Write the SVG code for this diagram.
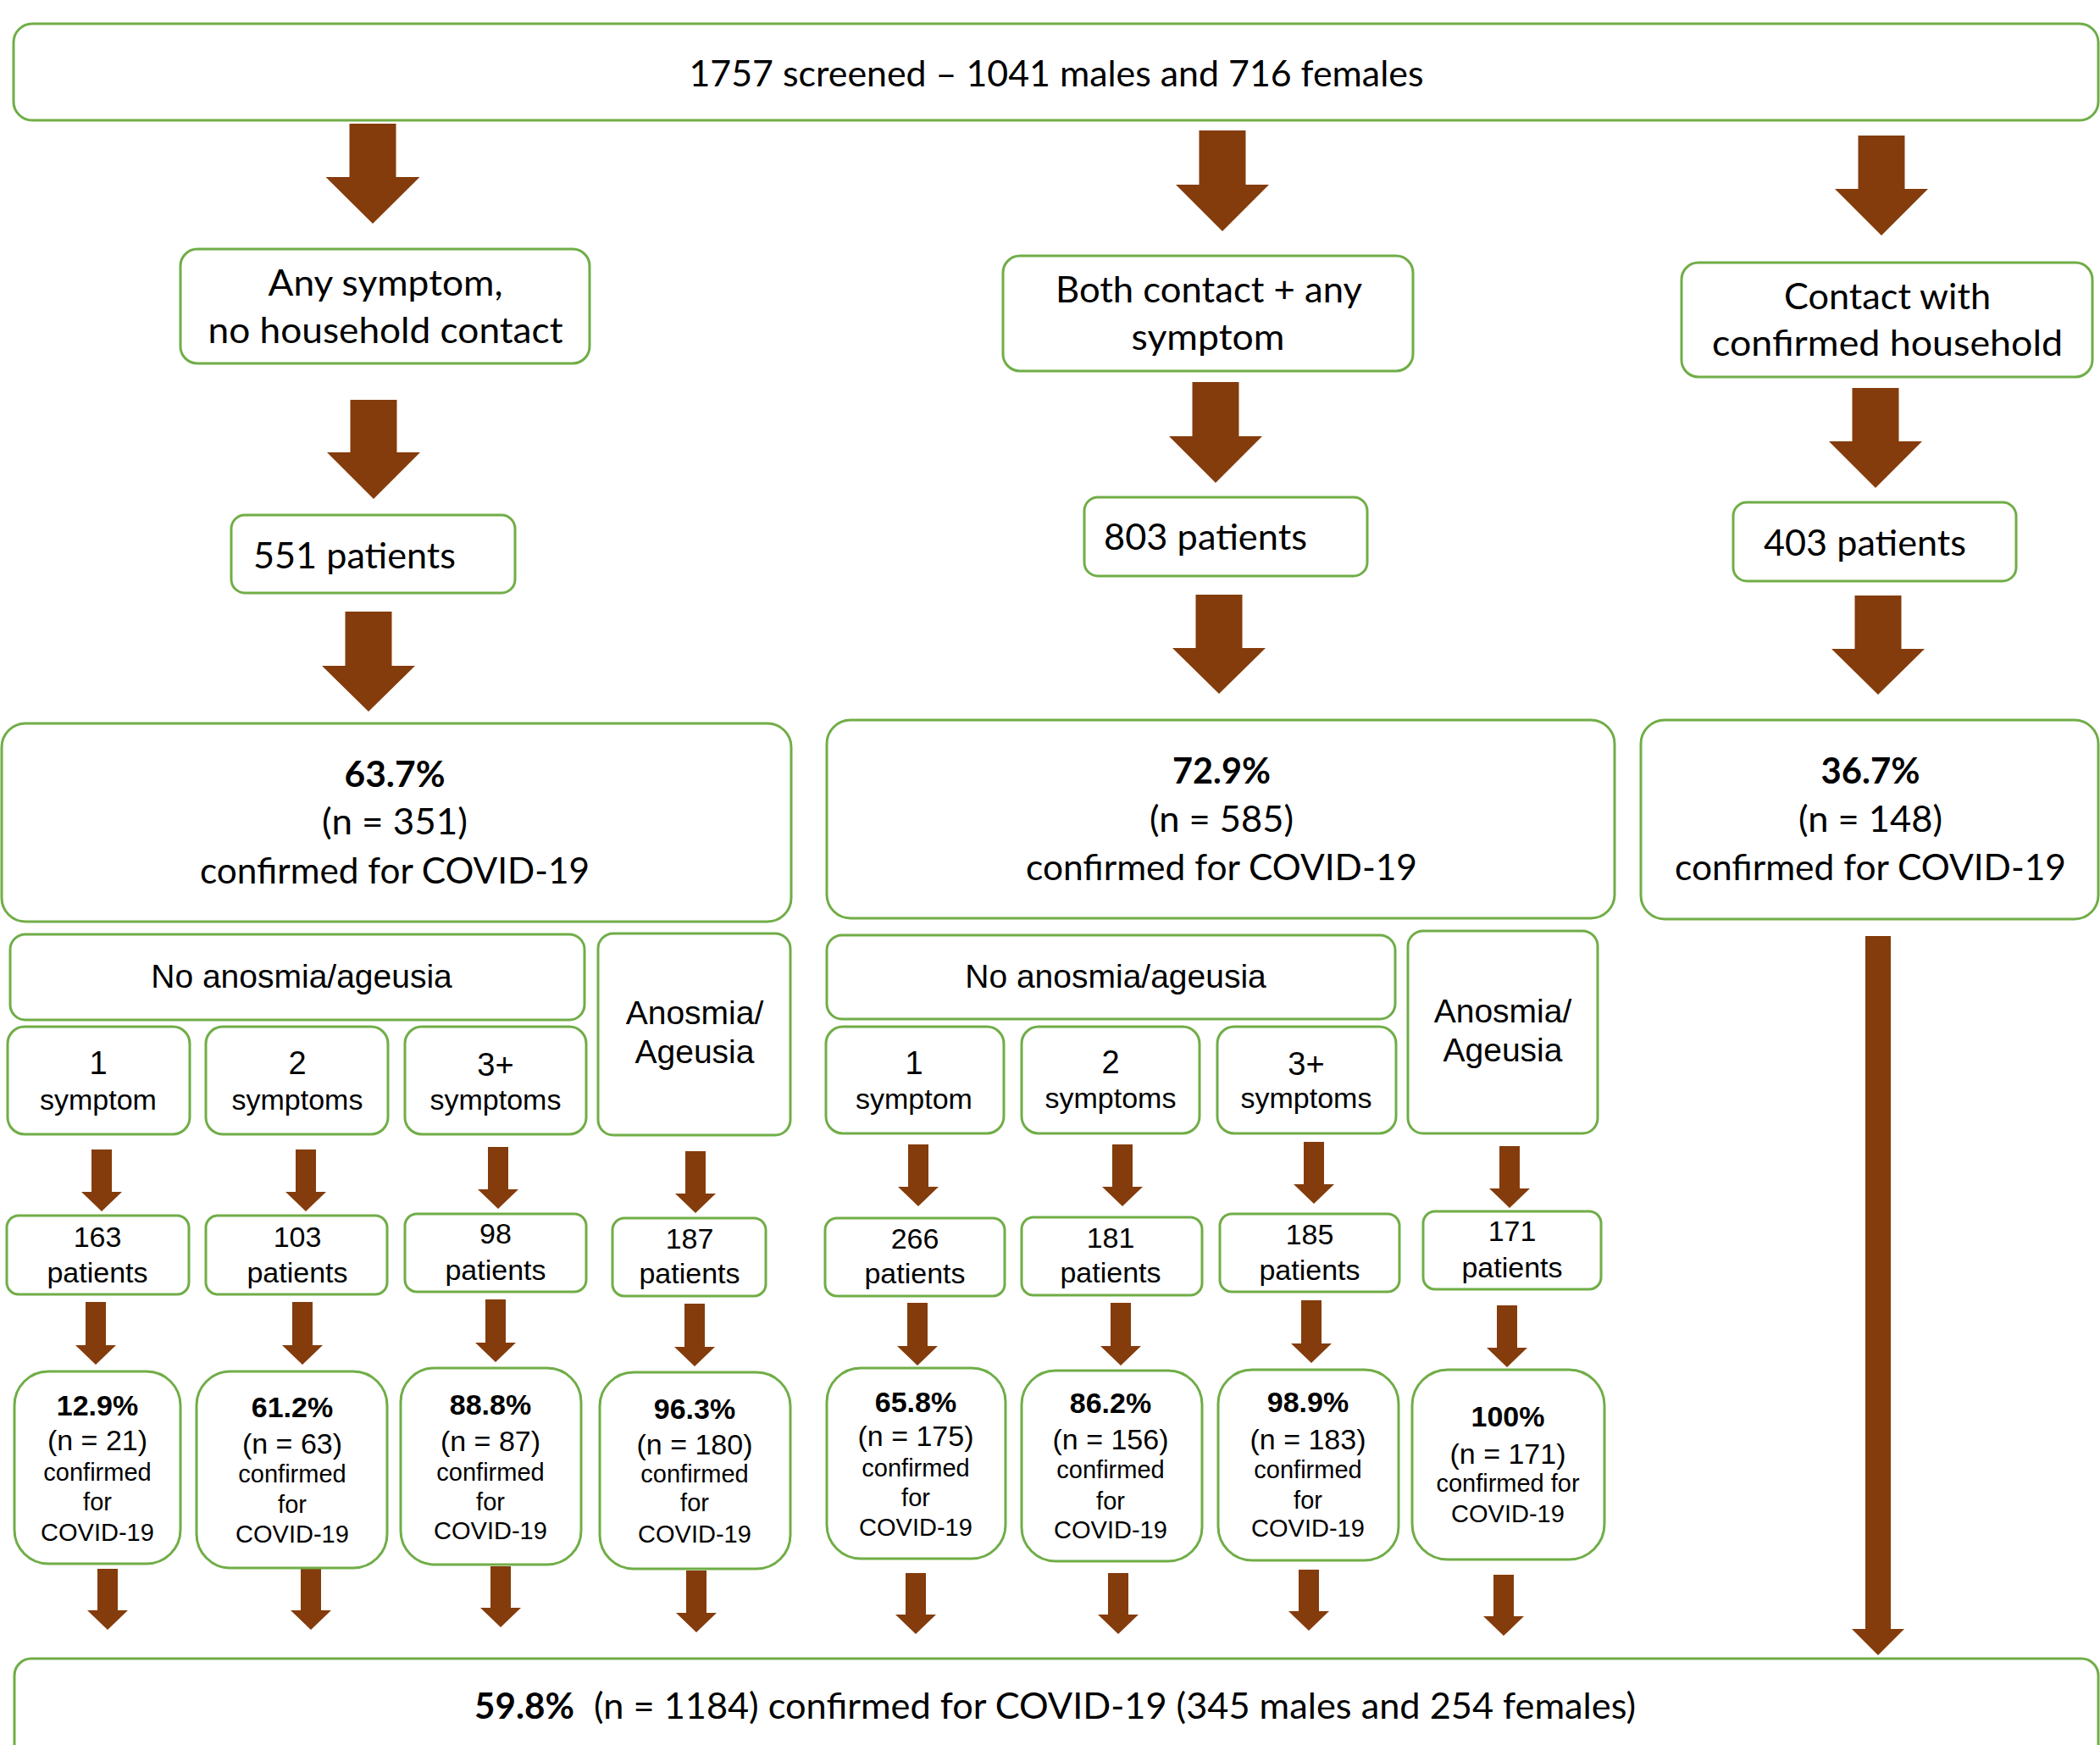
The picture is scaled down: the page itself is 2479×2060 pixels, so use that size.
<svg xmlns="http://www.w3.org/2000/svg" width="2479" height="2060" viewBox="0 0 2479 2060">
<style>
.box{fill:#fff;stroke:#70AD47;stroke-width:3}
.arr{fill:#843C0C}
.c{font-family:Lato,"Open Sans","Liberation Sans",sans-serif;font-size:42px;fill:#000}
.cb{font-family:Lato,"Open Sans","Liberation Sans",sans-serif;font-size:42px;font-weight:bold;fill:#000}
.a{font-family:"Liberation Sans",Arial,sans-serif;fill:#000;text-anchor:middle}
.mid{text-anchor:middle}
.s39{font-size:39px}
.s38{font-size:38px}
.s34{font-size:34px}
.s29{font-size:29px}
.b{font-weight:bold}
</style>
<rect width="2479" height="2060" fill="#fff"/>

<g id="connectors">
<!-- big arrows -->
<path class="arr" d="M412.5,146H467.5V209H495.5L440,264L384.5,209H412.5Z"/>
<path class="arr" d="M413.5,472H468.5V534H496L441,589L386,534H413.5Z"/>
<path class="arr" d="M1415.5,154H1470.5V218H1498L1443,273L1388,218H1415.5Z"/>
<path class="arr" d="M1407.5,451H1462.5V515H1490L1435,570L1380,515H1407.5Z"/>
<path class="arr" d="M2193.5,160H2248.5V223H2276L2221,278L2166,223H2193.5Z"/>
<path class="arr" d="M2186.5,458H2241.5V521H2269L2214,576L2159,521H2186.5Z"/>
<path class="arr" d="M407.5,722H462.5V786H490L435,840L380,786H407.5Z"/>
<path class="arr" d="M1411.5,702H1466.5V765H1494L1439,819L1384,765H1411.5Z"/>
<path class="arr" d="M2189.5,703H2244.5V766H2272L2217,820L2162,766H2189.5Z"/>
<!-- long arrow -->
<path class="arr" d="M2202,1105H2232V1923H2248L2217,1954L2186,1923H2202Z"/>
<!-- row A -->
<path class="arr" d="M108,1357H132V1407H144L120,1430L96,1407H108Z"/>
<path class="arr" d="M349,1357H373V1407H385L361,1430L337,1407H349Z"/>
<path class="arr" d="M576,1354H600V1404H612L588,1427L564,1404H576Z"/>
<path class="arr" d="M809,1359H833V1409H845L821,1432L797,1409H809Z"/>
<path class="arr" d="M1072,1351H1096V1401H1108L1084,1424L1060,1401H1072Z"/>
<path class="arr" d="M1313,1351H1337V1401H1349L1325,1424L1301,1401H1313Z"/>
<path class="arr" d="M1539,1348H1563V1398H1575L1551,1421L1527,1398H1539Z"/>
<path class="arr" d="M1770,1353H1794V1403H1806L1782,1426L1758,1403H1770Z"/>
<!-- row B -->
<path class="arr" d="M101,1537H125V1588H137L113,1611L89,1588H101Z"/>
<path class="arr" d="M345,1537H369V1588H381L357,1611L333,1588H345Z"/>
<path class="arr" d="M573,1534H597V1585H609L585,1608L561,1585H573Z"/>
<path class="arr" d="M808,1539H832V1590H844L820,1613L796,1590H808Z"/>
<path class="arr" d="M1071,1538H1095V1589H1107L1083,1612L1059,1589H1071Z"/>
<path class="arr" d="M1311,1538H1335V1589H1347L1323,1612L1299,1589H1311Z"/>
<path class="arr" d="M1536,1535H1560V1586H1572L1548,1609L1524,1586H1536Z"/>
<path class="arr" d="M1767,1541H1791V1591H1803L1779,1614L1755,1591H1767Z"/>
<!-- row C -->
<path class="arr" d="M115,1852H139V1901H151L127,1924L103,1901H115Z"/>
<path class="arr" d="M355,1852H379V1901H391L367,1924L343,1901H355Z"/>
<path class="arr" d="M579,1849H603V1898H615L591,1921L567,1898H579Z"/>
<path class="arr" d="M810,1854H834V1904H846L822,1927L798,1904H810Z"/>
<path class="arr" d="M1069,1857H1093V1906H1105L1081,1929L1057,1906H1069Z"/>
<path class="arr" d="M1308,1857H1332V1906H1344L1320,1929L1296,1906H1308Z"/>
<path class="arr" d="M1533,1853H1557V1902H1569L1545,1925L1521,1902H1533Z"/>
<path class="arr" d="M1763,1859H1787V1908H1799L1775,1931L1751,1908H1763Z"/>
</g>

<g id="n-screened">
<rect class="box" x="16" y="28" width="2461" height="114" rx="22"/>
<text class="c mid" x="1247" y="102" textLength="867" lengthAdjust="spacingAndGlyphs">1757 screened – 1041 males and 716 females</text>
</g>
<g id="n-anysymptom">
<rect class="box" x="213" y="294" width="483" height="135" rx="20"/>
<text class="c mid" x="455" y="349" textLength="277" lengthAdjust="spacingAndGlyphs">Any symptom,</text>
<text class="c mid" x="455" y="405" textLength="419" lengthAdjust="spacingAndGlyphs">no household contact</text>
</g>
<g id="n-551">
<rect class="box" x="273" y="608" width="335" height="92" rx="16"/>
<text class="c" x="299" y="671" textLength="239" lengthAdjust="spacingAndGlyphs">551 patients</text>
</g>
<g id="n-both">
<rect class="box" x="1184" y="302" width="484" height="136" rx="20"/>
<text class="c mid" x="1427" y="357" textLength="362" lengthAdjust="spacingAndGlyphs">Both contact + any</text>
<text class="c mid" x="1426" y="413" textLength="181" lengthAdjust="spacingAndGlyphs">symptom</text>
</g>
<g id="n-803">
<rect class="box" x="1280" y="587" width="334" height="93" rx="16"/>
<text class="c" x="1303" y="649" textLength="240" lengthAdjust="spacingAndGlyphs">803 patients</text>
</g>
<g id="n-contact">
<rect class="box" x="1985" y="310" width="485" height="135" rx="20"/>
<text class="c mid" x="2228" y="365" textLength="244" lengthAdjust="spacingAndGlyphs">Contact with</text>
<text class="c mid" x="2228" y="420" textLength="414" lengthAdjust="spacingAndGlyphs">confirmed household</text>
</g>
<g id="n-403">
<rect class="box" x="2046" y="593" width="334" height="93" rx="16"/>
<text class="c" x="2082" y="656" textLength="239" lengthAdjust="spacingAndGlyphs">403 patients</text>
</g>

<g id="n-conf1">
<rect class="box" x="2" y="854" width="932" height="234" rx="28"/>
<text class="cb mid" x="466" y="929" textLength="119" lengthAdjust="spacingAndGlyphs">63.7%</text>
<text class="c mid" x="466" y="985" textLength="172" lengthAdjust="spacingAndGlyphs">(n = 351)</text>
<text class="c mid" x="466" y="1043" textLength="460" lengthAdjust="spacingAndGlyphs">confirmed for COVID-19</text>
</g>
<g id="n-conf2">
<rect class="box" x="976" y="850" width="930" height="234" rx="28"/>
<text class="cb mid" x="1442" y="925" textLength="116" lengthAdjust="spacingAndGlyphs">72.9%</text>
<text class="c mid" x="1442" y="982" textLength="170" lengthAdjust="spacingAndGlyphs">(n = 585)</text>
<text class="c mid" x="1442" y="1039" textLength="462" lengthAdjust="spacingAndGlyphs">confirmed for COVID-19</text>
</g>
<g id="n-conf3">
<rect class="box" x="1937" y="850" width="540" height="235" rx="28"/>
<text class="cb mid" x="2208" y="925" textLength="117" lengthAdjust="spacingAndGlyphs">36.7%</text>
<text class="c mid" x="2208" y="982" textLength="170" lengthAdjust="spacingAndGlyphs">(n = 148)</text>
<text class="c mid" x="2208" y="1039" textLength="462" lengthAdjust="spacingAndGlyphs">confirmed for COVID-19</text>
</g>

<g id="n-noan1">
<rect class="box" x="12" y="1103" width="678" height="101" rx="18"/>
<text class="a s39" x="356" y="1166">No anosmia/ageusia</text>
</g>
<g id="n-an1">
<rect class="box" x="706" y="1102" width="227" height="238" rx="18"/>
<text class="a s39" x="820" y="1209">Anosmia/</text>
<text class="a s39" x="820" y="1255">Ageusia</text>
</g>
<g id="n-s1">
<rect class="box" x="9" y="1212" width="215" height="127" rx="20"/>
<text class="a s38" x="116" y="1268">1</text>
<text class="a s34" x="116" y="1310">symptom</text>
</g>
<g id="n-s2">
<rect class="box" x="243" y="1212" width="215" height="127" rx="20"/>
<text class="a s38" x="351" y="1268">2</text>
<text class="a s34" x="351" y="1310">symptoms</text>
</g>
<g id="n-s3">
<rect class="box" x="478" y="1212" width="214" height="127" rx="20"/>
<text class="a s38" x="585" y="1270">3+</text>
<text class="a s34" x="585" y="1310">symptoms</text>
</g>
<g id="n-noan2">
<rect class="box" x="976" y="1104" width="671" height="99" rx="18"/>
<text class="a s39" x="1317" y="1166">No anosmia/ageusia</text>
</g>
<g id="n-an2">
<rect class="box" x="1662" y="1099" width="224" height="239" rx="18"/>
<text class="a s39" x="1774" y="1207">Anosmia/</text>
<text class="a s39" x="1774" y="1253">Ageusia</text>
</g>
<g id="n-s4">
<rect class="box" x="975" y="1212" width="210" height="126" rx="20"/>
<text class="a s38" x="1079" y="1268">1</text>
<text class="a s34" x="1079" y="1309">symptom</text>
</g>
<g id="n-s5">
<rect class="box" x="1206" y="1212" width="210" height="126" rx="20"/>
<text class="a s38" x="1311" y="1267">2</text>
<text class="a s34" x="1311" y="1308">symptoms</text>
</g>
<g id="n-s6">
<rect class="box" x="1437" y="1212" width="211" height="126" rx="20"/>
<text class="a s38" x="1542" y="1269">3+</text>
<text class="a s34" x="1542" y="1308">symptoms</text>
</g>

<g id="n-p1"><rect class="box" x="8" y="1435" width="215" height="93" rx="14"/><text class="a s34" x="115" y="1472">163</text><text class="a s34" x="115" y="1514">patients</text></g>
<g id="n-p2"><rect class="box" x="243" y="1435" width="214" height="93" rx="14"/><text class="a s34" x="351" y="1472">103</text><text class="a s34" x="351" y="1514">patients</text></g>
<g id="n-p3"><rect class="box" x="478" y="1433" width="214" height="92" rx="14"/><text class="a s34" x="585" y="1468">98</text><text class="a s34" x="585" y="1511">patients</text></g>
<g id="n-p4"><rect class="box" x="723" y="1438" width="181" height="92" rx="14"/><text class="a s34" x="814" y="1474">187</text><text class="a s34" x="814" y="1515">patients</text></g>
<g id="n-p5"><rect class="box" x="974" y="1438" width="212" height="92" rx="14"/><text class="a s34" x="1080" y="1474">266</text><text class="a s34" x="1080" y="1515">patients</text></g>
<g id="n-p6"><rect class="box" x="1206" y="1437" width="213" height="92" rx="14"/><text class="a s34" x="1311" y="1473">181</text><text class="a s34" x="1311" y="1514">patients</text></g>
<g id="n-p7"><rect class="box" x="1440" y="1433" width="212" height="92" rx="14"/><text class="a s34" x="1546" y="1469">185</text><text class="a s34" x="1546" y="1511">patients</text></g>
<g id="n-p8"><rect class="box" x="1680" y="1430" width="210" height="92" rx="14"/><text class="a s34" x="1785" y="1465">171</text><text class="a s34" x="1785" y="1508">patients</text></g>

<g id="n-q1"><rect class="box" x="17" y="1619" width="196" height="227" rx="40"/>
<text class="a s34 b" x="115" y="1671">12.9%</text><text class="a s34" x="115" y="1712">(n = 21)</text><text class="a s29" x="115" y="1748">confirmed</text><text class="a s29" x="115" y="1783">for</text><text class="a s29" x="115" y="1819">COVID-19</text></g>
<g id="n-q2"><rect class="box" x="232" y="1619" width="225" height="232" rx="40"/>
<text class="a s34 b" x="345" y="1673">61.2%</text><text class="a s34" x="345" y="1716">(n = 63)</text><text class="a s29" x="345" y="1750">confirmed</text><text class="a s29" x="345" y="1786">for</text><text class="a s29" x="345" y="1821">COVID-19</text></g>
<g id="n-q3"><rect class="box" x="473" y="1615" width="213" height="232" rx="40"/>
<text class="a s34 b" x="579" y="1670">88.8%</text><text class="a s34" x="579" y="1713">(n = 87)</text><text class="a s29" x="579" y="1748">confirmed</text><text class="a s29" x="579" y="1783">for</text><text class="a s29" x="579" y="1817">COVID-19</text></g>
<g id="n-q4"><rect class="box" x="708" y="1620" width="225" height="232" rx="40"/>
<text class="a s34 b" x="820" y="1675">96.3%</text><text class="a s34" x="820" y="1717">(n = 180)</text><text class="a s29" x="820" y="1750">confirmed</text><text class="a s29" x="820" y="1784">for</text><text class="a s29" x="820" y="1821">COVID-19</text></g>
<g id="n-q5"><rect class="box" x="976" y="1615" width="211" height="225" rx="40"/>
<text class="a s34 b" x="1081" y="1667">65.8%</text><text class="a s34" x="1081" y="1707">(n = 175)</text><text class="a s29" x="1081" y="1743">confirmed</text><text class="a s29" x="1081" y="1778">for</text><text class="a s29" x="1081" y="1813">COVID-19</text></g>
<g id="n-q6"><rect class="box" x="1206" y="1618" width="213" height="225" rx="40"/>
<text class="a s34 b" x="1311" y="1668">86.2%</text><text class="a s34" x="1311" y="1711">(n = 156)</text><text class="a s29" x="1311" y="1745">confirmed</text><text class="a s29" x="1311" y="1782">for</text><text class="a s29" x="1311" y="1816">COVID-19</text></g>
<g id="n-q7"><rect class="box" x="1438" y="1617" width="213" height="225" rx="40"/>
<text class="a s34 b" x="1544" y="1667">98.9%</text><text class="a s34" x="1544" y="1711">(n = 183)</text><text class="a s29" x="1544" y="1745">confirmed</text><text class="a s29" x="1544" y="1781">for</text><text class="a s29" x="1544" y="1814">COVID-19</text></g>
<g id="n-q8"><rect class="box" x="1667" y="1617" width="227" height="224" rx="42"/>
<text class="a s34 b" x="1780" y="1684">100%</text><text class="a s34" x="1780" y="1728">(n = 171)</text><text class="a s29" x="1780" y="1761">confirmed for</text><text class="a s29" x="1780" y="1797">COVID-19</text></g>

<g id="n-total">
<rect class="box" x="17" y="1958" width="2460" height="140" rx="20"/>
<text class="cb" x="560" y="2029" textLength="118" lengthAdjust="spacingAndGlyphs">59.8%</text>
<text class="c" x="701" y="2029" textLength="1230" lengthAdjust="spacingAndGlyphs">(n = 1184) confirmed for COVID-19 (345 males and 254 females)</text>
</g>
</svg>
